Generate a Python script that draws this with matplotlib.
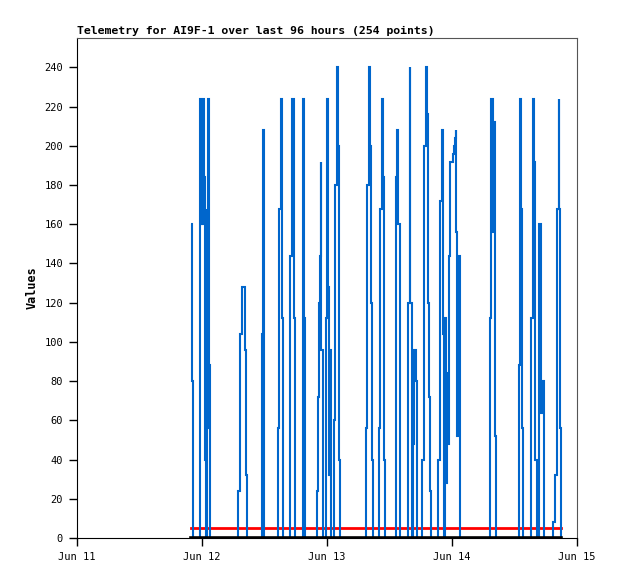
import datetime as dt

import matplotlib
matplotlib.use("Agg")
import matplotlib.dates as mdates
import matplotlib.pyplot as plt

# hours after Jun 11 00:00 and the telemetry value read at that time
hours = [
    21.89, 22.14, 22.33,
    23.56, 23.67, 23.81, 23.94, 24.06, 24.19, 24.33, 24.44, 24.58, 24.63, 24.77,
    24.90, 25.02, 25.15, 25.29, 25.40, 25.59,
    30.97, 31.24, 31.35, 31.62, 31.93, 32.26, 32.51, 32.64,
    35.58, 35.71, 35.90,
    38.59, 38.84, 39.11, 39.36, 39.49,
    40.90, 41.28, 41.66, 41.80,
    43.33, 43.58, 43.72,
    46.14, 46.27, 46.41, 46.66, 46.79, 46.91, 47.17,
    47.81, 48.06, 48.19, 48.44, 48.58, 48.83,
    49.34, 49.59, 49.86, 50.11, 50.25, 50.36, 50.50,
    55.49, 55.74, 56.01, 56.26, 56.45, 56.70, 56.89,
    57.98, 58.23, 58.50, 58.75, 58.89, 59.00, 59.14,
    61.19, 61.44, 61.69, 61.96, 62.07,
    63.61, 63.88, 63.99, 64.26, 64.51, 64.76, 65.03, 65.28,
    66.30, 66.57, 66.68, 66.95, 67.20, 67.33, 67.45, 67.58, 67.72, 67.97,
    69.37, 69.64, 69.75, 70.02, 70.14, 70.27, 70.41, 70.66, 70.91, 71.04,
    71.29, 71.42, 71.56, 72.06, 72.19, 72.44, 72.58, 72.71, 72.83, 72.96,
    73.21, 73.48, 73.59,
    79.30, 79.55, 79.82, 79.93, 80.06, 80.31, 80.45,
    84.81, 85.06, 85.31, 85.44, 85.69,
    87.23, 87.50, 87.74, 87.88, 88.00, 88.27,
    88.65, 88.90, 89.15, 89.42, 89.66,
    91.45, 91.72, 91.83, 92.10, 92.22, 92.49, 92.61, 92.74, 92.99,
]
values = [
    160, 80, 0,
    112, 224, 160, 208, 160, 224, 160, 184, 112, 40, 0,
    168, 56, 224, 200, 88, 0,
    24, 64, 104, 128, 128, 96, 32, 0,
    104, 208, 0,
    56, 168, 224, 112, 0,
    144, 224, 112, 0,
    224, 112, 0,
    24, 72, 120, 144, 192, 96, 0,
    112, 224, 128, 32, 96, 0,
    60, 180, 240, 200, 120, 40, 0,
    56, 180, 240, 200, 120, 40, 0,
    56, 168, 224, 184, 112, 40, 0,
    184, 208, 160, 80, 0,
    120, 240, 120, 0, 48, 96, 80, 0,
    40, 120, 200, 240, 216, 168, 120, 72, 24, 0,
    40, 120, 172, 196, 208, 104, 0, 112, 28, 84,
    48, 144, 192, 192, 196, 200, 204, 208, 156, 52,
    144, 128, 0,
    112, 224, 220, 156, 212, 52, 0,
    88, 224, 168, 56, 0,
    112, 224, 192, 120, 40, 0,
    160, 160, 64, 80, 0,
    8, 24, 32, 56, 168, 224, 168, 56, 0,
]
threshold = 5
baseline = 0
y_ticks = list(range(0, 241, 20))

start = dt.datetime(2024, 6, 11)
times = [start + dt.timedelta(hours=h) for h in hours]

fig = plt.figure(figsize=(6.18, 5.79), dpi=100)
ax = fig.add_axes([0.1246, 0.0708, 0.8091, 0.8636])

ax.plot(times, [threshold] * len(times), color="#ff0000", lw=2.0, zorder=2)
ax.plot(times, values, color="#0066cc", lw=1.5, drawstyle="steps-post",
        solid_joinstyle="miter", solid_capstyle="butt", zorder=3)
ax.plot(times, [baseline] * len(times), color="black", lw=2.6, zorder=4)

ax.set_xlim(start, start + dt.timedelta(days=4))
ax.set_ylim(0, 255)
ax.set_yticks(y_ticks)
ax.xaxis.set_major_locator(mdates.DayLocator())
ax.xaxis.set_major_formatter(mdates.DateFormatter("%b %d"))

mono = "DejaVu Sans Mono"
ax.tick_params(direction="out", length=6, width=1, pad=4, labelsize=7.5)
for lab in ax.get_xticklabels() + ax.get_yticklabels():
    lab.set_family(mono)

for side in ("top", "right"):
    ax.spines[side].set_color("#555555")
for side in ("left", "bottom"):
    ax.spines[side].set_color("black")

ax.set_ylabel("Values", family=mono, weight="bold", fontsize=8.5, labelpad=4)
ax.set_title("Telemetry for AI9F-1 over last 96 hours (254 points)",
             loc="left", family=mono, weight="bold", fontsize=8.25, pad=3)

fig.savefig("out.png", dpi=100)
